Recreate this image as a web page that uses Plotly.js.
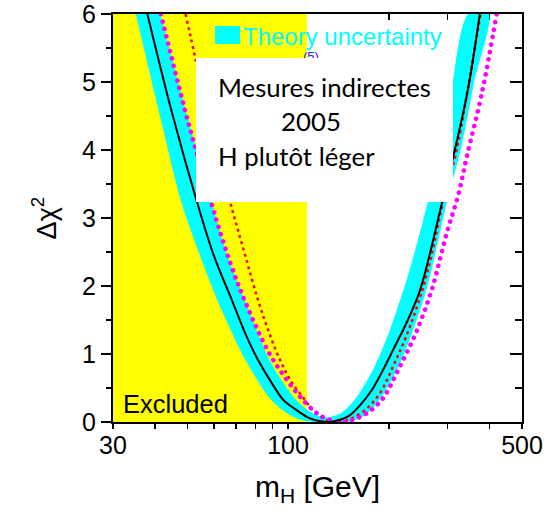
<!DOCTYPE html>
<html><head><meta charset="utf-8">
<script src="https://cdn.plot.ly/plotly-3.0.1.min.js"></script>
<style>html,body{margin:0;padding:0;background:#fff;} #chart{width:549px;height:511px;}</style>
</head><body><div id="chart"></div>
<script>
// ---- data ----
var excludedMass = [30, 114];                 // GeV, LEP direct search exclusion
var excludedChi = [0, 6];

var blackMass = [38, 45, 53, 60, 68, 75, 81, 90, 97, 105, 115, 125, 132, 140, 152, 165, 178, 192, 206, 228, 248, 267, 285, 315, 345, 374];
var blackChi  = [6.0, 4.55, 3.3, 2.45, 1.79, 1.27, 0.93, 0.55, 0.32, 0.19, 0.065, 0.01, 0.0, 0.02, 0.09, 0.26, 0.47, 0.76, 1.06, 1.5, 1.94, 2.53, 3.12, 4.0, 4.9, 6.0];

var bandOuterMass = [35.1, 42, 48.1, 55, 61.5, 74.6, 89.2, 100, 108, 118, 134, 150, 170, 190, 211, 230, 260, 298, 330, 360, 397];
var bandOuterChi  = [6.0, 4.38, 3.22, 2.4, 1.79, 0.91, 0.32, 0.12, 0.035, 0.0, 0.0, 0.0, 0.1, 0.36, 0.76, 1.19, 1.97, 3.22, 4.06, 5.0, 6.0];
var bandInnerMass = [41.5, 50, 59.2, 66, 74.3, 88, 97, 106, 115, 122, 132, 145, 160, 179, 200, 230, 261, 300, 346];
var bandInnerChi  = [6.0, 4.5, 3.22, 2.43, 1.79, 0.91, 0.57, 0.32, 0.17, 0.1, 0.07, 0.14, 0.36, 0.76, 1.31, 2.21, 3.22, 4.52, 6.0];

var redMass = [49.4, 57, 66.6, 74, 81.3, 88, 94.9, 102, 110.5, 118.4, 126, 133, 140, 148, 156, 172, 188, 205.6, 225, 252, 270, 290, 319, 345, 376];
var redChi  = [6.0, 4.65, 3.3, 2.5, 1.8, 1.3, 0.9, 0.6, 0.37, 0.18, 0.07, 0.015, 0.0, 0.018, 0.06, 0.2, 0.42, 0.81, 1.25, 1.94, 2.51, 3.22, 4.0, 4.92, 6.0];

var magMass = [41.7, 50, 59.5, 67, 74.6, 87, 95.9, 106.3, 118.4, 130, 146, 156, 172, 188, 197, 215.6, 240, 268.6, 298, 323, 342, 380, 420];
var magChi  = [6.0, 4.46, 3.16, 2.36, 1.76, 1.05, 0.72, 0.43, 0.18, 0.05, 0.0, 0.03, 0.13, 0.29, 0.43, 0.81, 1.29, 1.94, 2.78, 3.35, 3.9, 4.85, 6.0];

var xTickVals = [30, 100, 500];
var xTickText = ['30', '100', '500'];
var xMinorVals = [40, 50, 60, 70, 80, 90, 200, 300, 400];
var yTickVals = [0, 1, 2, 3, 4, 5, 6];

var legendText = 'Theory uncertainty';
var hiddenLegendFragment = '(5)';
var boxLines = ['Mesures indirectes', '2005', 'H plutôt léger'];
var excludedLabel = 'Excluded';

// ---- build ----
var bandX = bandOuterMass.concat(bandInnerMass.slice().reverse());
var bandY = bandOuterChi.concat(bandInnerChi.slice().reverse());

var traces = [
  {x: [excludedMass[0], excludedMass[1], excludedMass[1], excludedMass[0]],
   y: [excludedChi[0], excludedChi[0], excludedChi[1], excludedChi[1]],
   mode: 'lines', fill: 'toself', fillcolor: '#FFFF00', line: {width: 0, color: '#FFFF00'}, hoverinfo: 'skip'},
  {x: bandX, y: bandY, mode: 'lines', fill: 'toself', fillcolor: '#00FFFF',
   line: {width: 0, color: '#00FFFF', shape: 'spline', smoothing: 0.8}, hoverinfo: 'skip'},
  {x: redMass, y: redChi, mode: 'lines', line: {color: '#FF0000', width: 2.5, dash: '3px,3.5px', shape: 'spline'}},
  {x: magMass, y: magChi, mode: 'lines', line: {color: '#FF00FF', width: 4.6, dash: '0.1px,7.5px', shape: 'spline'}},
  {x: blackMass, y: blackChi, mode: 'lines', line: {color: '#000000', width: 2, shape: 'spline'}},
  {x: [117], y: [5.35], mode: 'text', text: [hiddenLegendFragment], textposition: 'middle center',
   textfont: {family: 'Liberation Sans, Arial, sans-serif', size: 13, color: '#1a1aff'}, hoverinfo: 'skip'},
  {x: [100], y: [3], xaxis: 'x2', yaxis: 'y2', mode: 'markers', marker: {opacity: 0}, hoverinfo: 'skip'},
  {x: [100], y: [3], xaxis: 'x3', yaxis: 'y', mode: 'markers', marker: {opacity: 0}, hoverinfo: 'skip'}
];

var tickFont = {family: 'Liberation Sans, Arial, sans-serif', size: 25, color: '#000'};
var xr = [Math.log10(30), Math.log10(500)];

function px(x) { return (x - 113) / 409; }
function py(y) { return (422 - y) / 408; }

var layout = {
  width: 549, height: 511,
  margin: {l: 113, r: 27, t: 14, b: 89, pad: 0},
  paper_bgcolor: '#ffffff', plot_bgcolor: '#ffffff',
  showlegend: false,
  xaxis: {type: 'log', range: xr, tickmode: 'array', tickvals: xTickVals, ticktext: xTickText,
    ticks: '', ticklabeloverflow: 'allow',
    showline: true, linewidth: 2, linecolor: '#000', mirror: true, showgrid: false, zeroline: false,
    tickfont: tickFont, fixedrange: true,
    title: {text: 'm<sub>H</sub> [GeV]', font: {family: 'Liberation Sans, Arial, sans-serif', size: 30, color: '#000'}, standoff: 18}},
  xaxis3: {type: 'log', range: xr, overlaying: 'x', anchor: 'y', side: 'bottom', tickmode: 'array', tickvals: xTickVals,
    ticks: 'outside', ticklen: 6, tickwidth: 1.5, tickcolor: '#000', showticklabels: false,
    minor: {tickvals: xMinorVals, ticks: 'outside', ticklen: 6, tickwidth: 1.5, tickcolor: '#000', showgrid: false},
    showline: false, showgrid: false, zeroline: false, fixedrange: true},
  yaxis: {range: [0, 6], tickmode: 'array', tickvals: yTickVals,
    ticks: 'outside', ticklen: 10, tickwidth: 1.5, tickcolor: '#000', ticklabeloverflow: 'allow',
    minor: {dtick: 0.5, ticks: 'outside', ticklen: 5, tickwidth: 1.5, tickcolor: '#000', showgrid: false},
    showline: true, linewidth: 2, linecolor: '#000', mirror: true, showgrid: false, zeroline: false,
    tickfont: tickFont, fixedrange: true,
    title: {text: 'Δχ<sup>2</sup>', font: {family: 'Liberation Sans, Arial, sans-serif', size: 27, color: '#000'}, standoff: 18}},
  xaxis2: {type: 'log', range: xr, overlaying: 'x', anchor: 'y2', side: 'top', tickmode: 'array', tickvals: xTickVals,
    ticks: 'inside', ticklen: 6, tickwidth: 1.5, tickcolor: '#000', showticklabels: false, layer: 'below traces',
    minor: {tickvals: xMinorVals, ticks: 'inside', ticklen: 6, tickwidth: 1.5, tickcolor: '#000', showgrid: false},
    showline: false, showgrid: false, zeroline: false, fixedrange: true},
  yaxis2: {range: [0, 6], overlaying: 'y', anchor: 'x2', side: 'right', tickmode: 'array', tickvals: yTickVals,
    ticks: 'inside', ticklen: 12, tickwidth: 1.5, tickcolor: '#000', showticklabels: false, layer: 'below traces',
    minor: {dtick: 0.5, ticks: 'inside', ticklen: 7, tickwidth: 1.5, tickcolor: '#000', showgrid: false},
    showline: false, showgrid: false, zeroline: false, fixedrange: true},
  shapes: [
    {type: 'rect', xref: 'paper', yref: 'paper', x0: px(196), x1: px(453), y0: py(202), y1: py(58),
     fillcolor: '#ffffff', line: {width: 0}, layer: 'above'},
    {type: 'rect', xref: 'paper', yref: 'paper', x0: px(215), x1: px(240), y0: py(44), y1: py(26),
     fillcolor: '#00FFFF', line: {width: 0}, layer: 'above'}
  ],
  annotations: [
    {xref: 'paper', yref: 'paper', x: px(241), y: py(36), xanchor: 'left', yanchor: 'middle', showarrow: false,
     text: legendText, font: {family: 'Liberation Sans, Arial, sans-serif', size: 24, color: '#00FFFF'}},
    {xref: 'paper', yref: 'paper', x: px(216), y: py(87), xanchor: 'left', yanchor: 'middle', showarrow: false,
     text: boxLines[0], font: {family: 'Lato, sans-serif', size: 25.8, color: '#000'}},
    {xref: 'paper', yref: 'paper', x: px(279), y: py(121), xanchor: 'left', yanchor: 'middle', showarrow: false,
     text: boxLines[1], font: {family: 'Lato, sans-serif', size: 25.8, color: '#000'}},
    {xref: 'paper', yref: 'paper', x: px(216), y: py(156), xanchor: 'left', yanchor: 'middle', showarrow: false,
     text: boxLines[2], font: {family: 'Lato, sans-serif', size: 25.8, color: '#000'}},
    {xref: 'paper', yref: 'paper', x: px(121), y: py(404), xanchor: 'left', yanchor: 'middle', showarrow: false,
     text: excludedLabel, font: {family: 'Liberation Sans, Arial, sans-serif', size: 25.5, color: '#000'}}
  ]
};

Plotly.newPlot('chart', traces, layout, {displayModeBar: false, staticPlot: true}).then(function () {
  var paths = document.querySelectorAll('.scatterlayer path.js-line');
  paths.forEach(function (p) {
    var s = p.getAttribute('style') || '';
    if (s.indexOf('rgb(255, 0, 255)') >= 0) { p.style.strokeLinecap = 'round'; }
  });
});
</script></body></html>
